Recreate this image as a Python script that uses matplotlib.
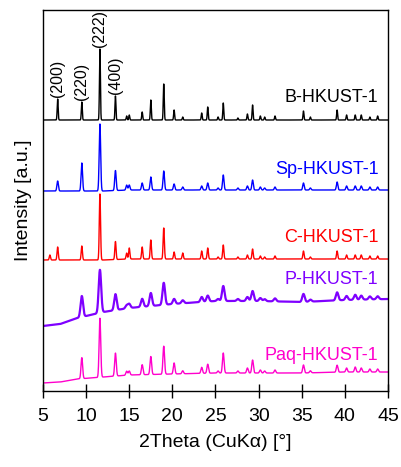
import numpy as np
import matplotlib
matplotlib.use("Agg")
import matplotlib.pyplot as plt

plt.rcParams['font.family'] = ['Liberation Sans', 'DejaVu Sans']

# Common HKUST-1 reflection positions (2theta, degrees)
peak_pos = [5.8, 6.7, 9.5, 11.6, 13.4, 14.7, 15.0, 16.5, 17.5, 19.0, 20.2, 21.2,
            23.4, 24.1, 25.3, 25.9, 27.6, 28.7, 29.3, 30.2, 30.7, 31.9, 35.2, 36.0,
            39.1, 40.2, 41.2, 41.9, 42.9, 43.8]

# Peak heights per sample (a.u.)
h_B   = [0, 21, 18, 71, 24, 4, 5, 8, 20, 36, 10, 3, 7, 13, 3, 17, 2, 6, 15, 4, 3, 4, 9, 3, 10, 5, 5, 5, 3, 4]
h_Sp  = [0, 10, 28, 67, 20, 5, 5, 7, 13, 19, 6, 3, 4, 7, 2, 15, 2, 4, 10, 3, 2, 3, 7, 2, 8, 4, 4, 4, 3, 3]
h_C   = [5, 13, 14, 66, 18, 6, 11, 12, 19, 31, 7, 6, 8, 11, 2, 14, 2, 4, 10, 3, 2, 3, 8, 2, 8, 4, 4, 4, 3, 3]
h_P   = [0, 0, 21, 43, 16, 3, 4, 8, 13, 22, 5, 3, 5, 6, 2, 15, 2, 4, 10, 3, 2, 3, 8, 2, 8, 4, 5, 4, 3, 3]
h_Paq = [0, 0, 21, 59, 23, 4, 4, 10, 18, 28, 11, 3, 6, 9, 2, 20, 2, 5, 13, 3, 2, 3, 8, 2, 7, 4, 5, 4, 3, 3]

# Peak widths (FWHM, degrees)
w_B, w_Sp, w_C, w_P, w_Paq = 0.13, 0.2, 0.17, 0.34, 0.22

# Background levels (stacked offsets), read at these 2theta anchors
bg_x   = [5, 7, 9, 12, 15, 20, 25, 30, 35, 40, 45]
bg_B   = [271, 271, 271, 271, 271, 271, 271, 271, 271, 271, 271]
bg_Sp  = [200, 200, 200, 200, 201, 201, 201, 201, 201, 201, 201]
bg_C   = [131, 131, 131, 131, 132, 132, 132, 132, 132, 132, 132]
bg_P   = [65, 67, 73, 79, 83, 87, 90, 90, 89, 91, 92]
bg_Paq = [8, 9, 12, 14, 16, 17, 18, 18, 18, 19, 19]

names  = ['B-HKUST-1', 'Sp-HKUST-1', 'C-HKUST-1', 'P-HKUST-1', 'Paq-HKUST-1']
colors = ['#000000', '#0000ff', '#ff0000', '#7f00ff', '#ff00cc']
label_y = [293, 221, 154, 111, 36]

hkl_labels = ['(200)', '(220)', '(222)', '(400)']
hkl_pos = [6.7, 9.5, 11.6, 13.4]
hkl_B_h = [21, 18, 71, 24]

x = np.linspace(5, 45, 4001)

def pattern(heights, width, bg):
    y = np.interp(x, bg_x, bg).astype(float)
    s = width / 2.3548
    for p, h in zip(peak_pos, heights):
        y += h * np.exp(-0.5 * ((x - p) / s) ** 2)
    return y

fig = plt.figure(figsize=(4.02, 4.67), dpi=100)
ax = fig.add_axes([43 / 402, 1 - 391 / 467, 345 / 402, 381.5 / 467])

series = [(h_B, w_B, bg_B), (h_Sp, w_Sp, bg_Sp), (h_C, w_C, bg_C),
          (h_P, w_P, bg_P), (h_Paq, w_Paq, bg_Paq)]
lws = [1.0, 1.0, 1.0, 1.6, 1.0]
for (hh, ww, bg), c, lw, name, ly in zip(series, colors, lws, names, label_y):
    ax.plot(x, pattern(hh, ww, bg), color=c, lw=lw)
    ax.text(43.9, ly, name, color=c, ha='right', va='center', fontsize=13)

for lab, p, h in zip(hkl_labels, hkl_pos, hkl_B_h):
    ax.text(p, 271 + h + 2, lab, rotation=90, ha='center', va='bottom', fontsize=11.5)

ax.set_xlim(5, 45)
ax.set_ylim(0, 381.5)
ax.set_xticks([5, 10, 15, 20, 25, 30, 35, 40, 45])
ax.set_yticks([])
ax.tick_params(axis='x', direction='inout', length=10, width=1, labelsize=14, pad=7)
for sp in ax.spines.values():
    sp.set_linewidth(1)
ax.set_xlabel('2Theta (CuKα) [°]', fontsize=14, labelpad=7)
ax.set_ylabel('Intensity [a.u.]', fontsize=14, labelpad=8)

fig.savefig('out.png', dpi=100)
